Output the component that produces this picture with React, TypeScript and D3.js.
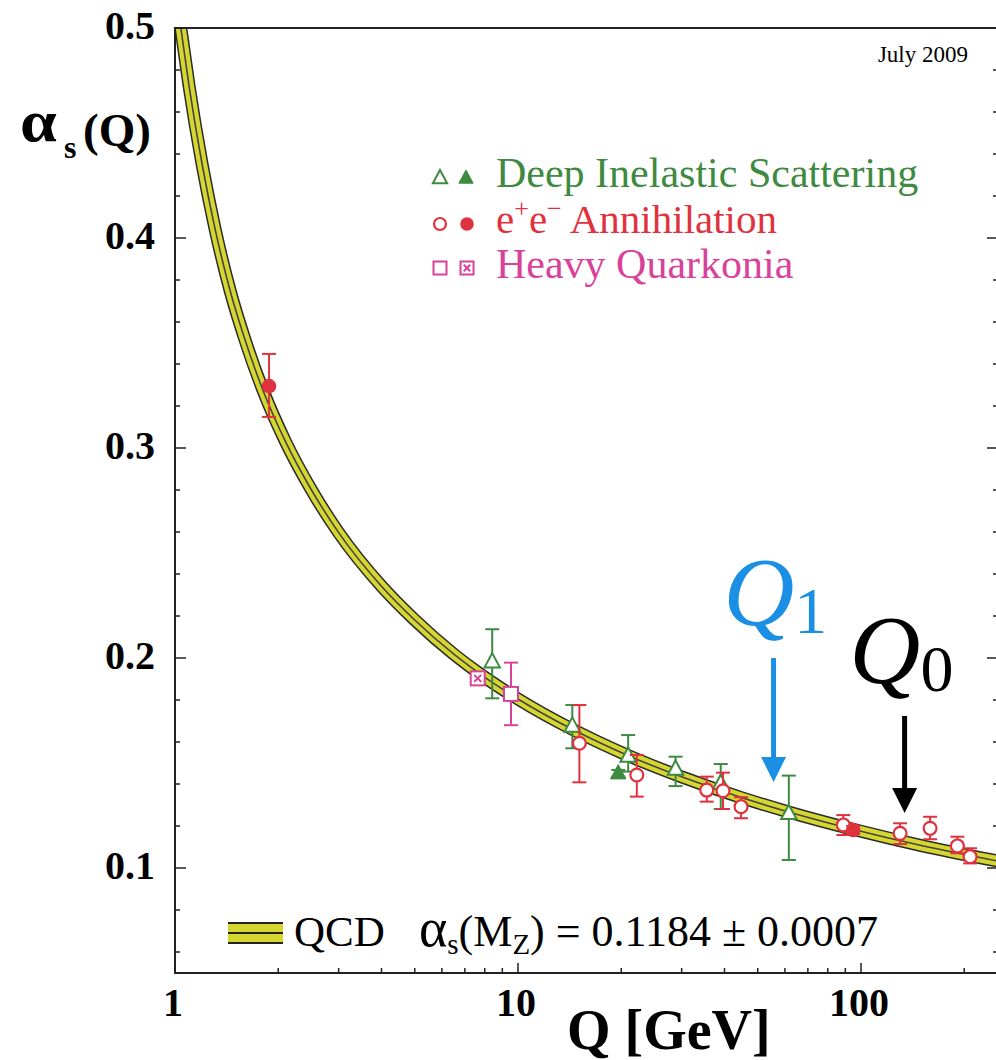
import React from 'react';
import * as d3 from 'd3';

const W = 996;
const H = 1060;
const plot = { left: 175, right: 998, top: 28, bottom: 973 };

const xTicks = [1, 10, 100];
const xTickLabels = ['1', '10', '100'];
const xMinor = [2, 3, 4, 5, 6, 7, 8, 9, 20, 30, 40, 50, 60, 70, 80, 90, 200];
const yTicks = [0.1, 0.2, 0.3, 0.4, 0.5];
const yTickLabels = ['0.1', '0.2', '0.3', '0.4', '0.5'];
const yMinor = [0.06, 0.08, 0.12, 0.14, 0.16, 0.18, 0.22, 0.24, 0.26, 0.28, 0.32, 0.34, 0.36, 0.38, 0.42, 0.44, 0.46, 0.48];

// QCD band centre
const curveQ = [1.04, 1.1, 1.2, 1.31, 1.45, 1.6, 1.8, 2.1, 2.5, 3, 4, 5, 6.5, 7.6, 10, 14.5, 20.9, 30, 45, 61.5, 94, 150, 260];
const curveAlpha = [0.5, 0.472, 0.435, 0.404, 0.3745, 0.3515, 0.328, 0.303, 0.28, 0.2597, 0.2342, 0.2181, 0.2018, 0.1934, 0.1805, 0.1658, 0.1536, 0.1434, 0.1334, 0.1267, 0.1186, 0.1107, 0.1028];

// [Q, alpha, low, high]
const disOpen = [
  [8.41, 0.1982, 0.1808, 0.2137],
  [14.4, 0.1676, 0.157, 0.1776],
  [20.95, 0.1533, 0.1459, 0.1633],
  [28.8, 0.1471, 0.139, 0.153],
  [39.0, 0.1403, 0.1281, 0.1495],
  [61.6, 0.126, 0.1038, 0.144],
];
const disFilled = [[19.6, 0.1451, 0.1435, 0.1467]];
const eeOpen = [
  [15.1, 0.1594, 0.1408, 0.1776],
  [22.2, 0.1443, 0.134, 0.1538],
  [35.5, 0.1371, 0.1316, 0.1435],
  [39.6, 0.1368, 0.1281, 0.1454],
  [44.7, 0.1292, 0.1237, 0.1337],
  [88.8, 0.1205, 0.1157, 0.1252],
  [130, 0.1165, 0.1114, 0.1213],
  [159, 0.1189, 0.1137, 0.1244],
  [191, 0.1105, 0.107, 0.1149],
  [208, 0.1054, 0.1022, 0.1094],
];
const eeFilled = [
  [1.88, 0.3295, 0.3148, 0.3448],
  [94.9, 0.1181, 0.1162, 0.12],
];
const hqOpen = [[9.54, 0.1829, 0.168, 0.1978]];
const hqFilled = [[7.63, 0.1903, 0.1893, 0.1913]];

// arrows: Q, alpha from, alpha to
const arrows = [
  { q: 55.6, from: 0.2, to: 0.141, color: '#1a8fe3', label: 'Q', sub: '1' },
  { q: 134, from: 0.1724, to: 0.1262, color: '#000', label: 'Q', sub: '0' },
];

const GREEN = '#3e8a40';
const RED = '#e0323e';
const PINK = '#d8429a';
const YELLOW = '#d6d630';
const SERIF = '"Liberation Serif", "Times New Roman", serif';

const x = d3.scaleLog().domain([1, 10]).range([plot.left, plot.left + 343]);
const y = d3.scaleLinear().domain([0.05, 0.5]).range([plot.bottom, plot.top]);

function triPath(s: number) {
  return `M0,${-s * 0.62}L${s * 0.55},${s * 0.4}L${-s * 0.55},${s * 0.4}Z`;
}

function ErrBar({ d, color }: { d: number[]; color: string }) {
  const cx = x(d[0]);
  return (
    <g stroke={color} strokeWidth={2}>
      <line x1={cx} x2={cx} y1={y(d[2])} y2={y(d[3])} />
      <line x1={cx - 7} x2={cx + 7} y1={y(d[2])} y2={y(d[2])} />
      <line x1={cx - 7} x2={cx + 7} y1={y(d[3])} y2={y(d[3])} />
    </g>
  );
}

function Marker({ kind, cx, cy, s = 14 }: { kind: string; cx: number; cy: number; s?: number }) {
  const t = `translate(${cx},${cy})`;
  switch (kind) {
    case 'disOpen':
      return <path transform={t} d={triPath(s)} fill="#fff" stroke={GREEN} strokeWidth={2} />;
    case 'disFilled':
      return <path transform={t} d={triPath(s)} fill={GREEN} stroke={GREEN} strokeWidth={1} />;
    case 'eeOpen':
      return <circle cx={cx} cy={cy} r={s * 0.46} fill="#fff" stroke={RED} strokeWidth={2.2} />;
    case 'eeFilled':
      return <circle cx={cx} cy={cy} r={s * 0.52} fill={RED} />;
    case 'hqOpen':
      return <rect x={cx - s / 2} y={cy - s / 2} width={s} height={s} fill="#fff" stroke={PINK} strokeWidth={2} />;
    default:
      return (
        <g transform={t} stroke={PINK} strokeWidth={2}>
          <rect x={-s / 2} y={-s / 2} width={s} height={s} fill="#fff" />
          <line x1={-s / 4} y1={-s / 4} x2={s / 4} y2={s / 4} />
          <line x1={-s / 4} y1={s / 4} x2={s / 4} y2={-s / 4} />
        </g>
      );
  }
}

const series = [
  { kind: 'hqFilled', data: hqFilled, color: PINK },
  { kind: 'hqOpen', data: hqOpen, color: PINK },
  { kind: 'disOpen', data: disOpen, color: GREEN },
  { kind: 'disFilled', data: disFilled, color: GREEN },
  { kind: 'eeOpen', data: eeOpen, color: RED },
  { kind: 'eeFilled', data: eeFilled, color: RED },
];

export default function App() {
  const line = d3
    .line<number>()
    .x((_, i) => x(curveQ[i]))
    .y((a) => y(a))
    .curve(d3.curveMonotoneX);
  const bandPath = line(curveAlpha) || '';

  return (
    <svg width={W} height={H} style={{ position: 'absolute', left: 0, top: 0, background: '#fff' }} fontFamily={SERIF}>
      <defs>
        <clipPath id="plotClip">
          <rect x={plot.left} y={plot.top} width={plot.right - plot.left} height={plot.bottom - plot.top} />
        </clipPath>
      </defs>

      {/* band */}
      <g clipPath="url(#plotClip)" fill="none">
        <path d={bandPath} stroke="#2a2a2a" strokeWidth={13} />
        <path d={bandPath} stroke={YELLOW} strokeWidth={10} />
        <path d={bandPath} stroke="#444" strokeWidth={1.6} />
      </g>

      {/* frame */}
      <rect x={plot.left} y={plot.top} width={plot.right - plot.left} height={plot.bottom - plot.top} fill="none" stroke="#222" strokeWidth={2} />

      {/* ticks */}
      <g stroke="#222" strokeWidth={1.5}>
        {xTicks.map((t) => <line key={'xt' + t} x1={x(t)} x2={x(t)} y1={plot.bottom} y2={plot.bottom - 10} />)}
        {xMinor.map((t) => <line key={'xm' + t} x1={x(t)} x2={x(t)} y1={plot.bottom} y2={plot.bottom - 5} />)}
        {yTicks.map((t) => (
          <g key={'yt' + t}>
            <line x1={plot.left} x2={plot.left + 11} y1={y(t)} y2={y(t)} />
            <line x1={plot.right} x2={plot.right - 11} y1={y(t)} y2={y(t)} />
          </g>
        ))}
        {yMinor.map((t) => (
          <g key={'ym' + t}>
            <line x1={plot.left} x2={plot.left + 5} y1={y(t)} y2={y(t)} />
            <line x1={plot.right} x2={plot.right - 5} y1={y(t)} y2={y(t)} />
          </g>
        ))}
      </g>

      {/* tick labels */}
      <g fontWeight="bold" fontSize={40} fill="#000">
        {yTicks.map((t, i) => (
          <text key={'yl' + t} x={155} y={y(t) + 11} textAnchor="end">{yTickLabels[i]}</text>
        ))}
        {xTicks.map((t, i) => (
          <text key={'xl' + t} x={x(t) - 2} y={1016} textAnchor="middle">{xTickLabels[i]}</text>
        ))}
      </g>

      {/* axis titles */}
      <text x={567} y={1049} fontSize={56} fontWeight="bold">Q [GeV]</text>
      <g fontWeight="bold">
        <text x={20} y={141} fontSize={60} transform="translate(20,0) scale(1.1,1) translate(-20,0)">α</text>
        <text x={64} y={158} fontSize={32}>s</text>
        <text x={83} y={146} fontSize={47}>(Q)</text>
      </g>
      <text x={968} y={62} fontSize={23} textAnchor="end">July 2009</text>

      {/* data */}
      {series.map((s) => (
        <g key={s.kind}>
          {s.data.map((d, i) => <ErrBar key={i} d={d} color={s.color} />)}
          {s.data.map((d, i) => <Marker key={'m' + i} kind={s.kind} cx={x(d[0])} cy={y(d[1])} />)}
        </g>
      ))}

      {/* legend */}
      <g fontSize={42}>
        <Marker kind="disOpen" cx={440} cy={178} s={13} />
        <Marker kind="disFilled" cx={466} cy={178} s={13} />
        <text x={496} y={187} fill={GREEN}>Deep Inelastic Scattering</text>
        <Marker kind="eeOpen" cx={440} cy={224} s={13} />
        <Marker kind="eeFilled" cx={467} cy={224} s={13} />
        <text x={496} y={233} fill={RED} fontSize={41}>
          e<tspan fontSize={26} dy={-16}>+</tspan><tspan dy={16}>e</tspan><tspan fontSize={26} dy={-16}>−</tspan><tspan dy={16}> Annihilation</tspan>
        </text>
        <Marker kind="hqOpen" cx={440} cy={268} s={13} />
        <Marker kind="hqFilled" cx={467} cy={268} s={13} />
        <text x={496} y={278} fill={PINK}>Heavy Quarkonia</text>
      </g>

      {/* QCD legend */}
      <g>
        <rect x={228} y={923} width={55} height={20} fill={YELLOW} />
        <g stroke="#222" strokeWidth={2}>
          <line x1={228} x2={283} y1={923} y2={923} />
          <line x1={228} x2={283} y1={933} y2={933} />
          <line x1={228} x2={283} y1={943} y2={943} />
        </g>
        <text x={294} y={946} fontSize={43}>QCD</text>
        <text x={419} y={946} fontSize={44}>
          <tspan fontSize={54}>α</tspan><tspan fontSize={29} dy={8}>s</tspan><tspan dy={-8}>(M</tspan><tspan fontSize={29} dy={8}>Z</tspan><tspan dy={-8}>) = 0.1184 ± 0.0007</tspan>
        </text>
      </g>

      {/* arrows */}
      {arrows.map((a) => {
        const ax = x(a.q);
        const y0 = y(a.from);
        const y1 = y(a.to);
        return (
          <g key={a.sub} fill={a.color}>
            <line x1={ax} x2={ax} y1={y0} y2={y1 - 20} stroke={a.color} strokeWidth={5} />
            <path d={`M${ax - 12.5},${y1 - 25}L${ax + 12.5},${y1 - 25}L${ax},${y1}Z`} />
            <text x={ax - (a.sub === '1' ? 50 : 55)} y={y0 - 33} fontSize={98} fontStyle="italic">
              {a.label}
              <tspan fontStyle="normal" fontSize={66} dy={8}>{a.sub}</tspan>
            </text>
          </g>
        );
      })}
    </svg>
  );
}
